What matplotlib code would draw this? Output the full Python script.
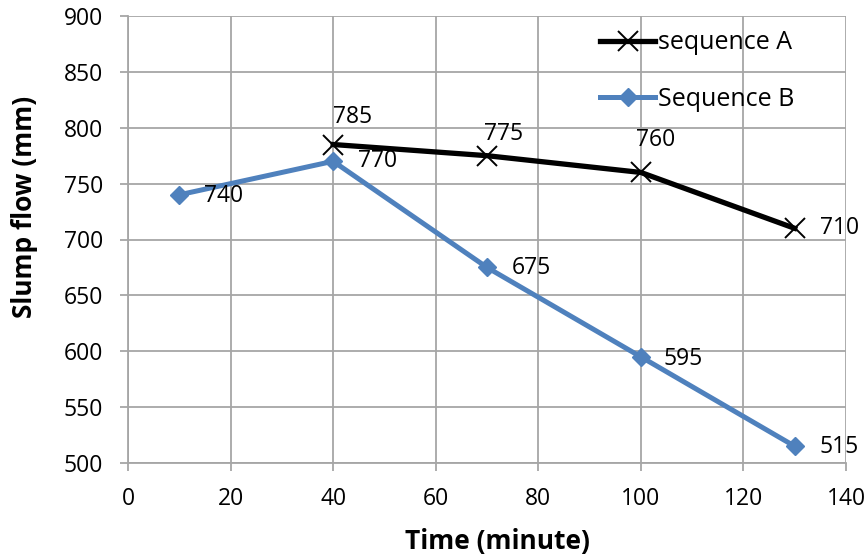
import matplotlib
matplotlib.use("Agg")
import matplotlib.pyplot as plt

time_a = [40, 70, 100, 130]
flow_a = [785, 775, 760, 710]
time_b = [10, 40, 70, 100, 130]
flow_b = [740, 770, 675, 595, 515]

label_a = "sequence A"
label_b = "Sequence B"

plt.rcParams['font.family'] = ['Open Sans', 'DejaVu Sans']

W, H = 865, 559
fig = plt.figure(figsize=(W / 100, H / 100), dpi=100)
ax = fig.add_axes([128 / W, 1 - 463 / H, 718 / W, 447 / H])

grid_c = '#A6A6A6'
ax.plot(time_a, flow_a, color='black', lw=3.8, marker='x', markersize=14,
        markeredgewidth=1.4, label=label_a, zorder=3)
ax.plot(time_b, flow_b, color='#4F81BD', lw=3.6, marker='D', markersize=9.5,
        label=label_b, zorder=3)

px = 0.72  # points per pixel
fs = 16.5
# label offsets in pixels (dx, dy up)
offs_a = [(0, 28), (-3, 22), (-5, 32), (25, 0)]
for x, y, (dx, dy) in zip(time_a, flow_a, offs_a):
    ax.annotate(str(y), (x, y), xytext=(dx * px, dy * px),
                textcoords='offset points', fontsize=fs, ha='left',
                va='center')
offs_b = [(25, -1), (25, 0), (25, -1), (23, -2), (25, -1)]
for x, y, (dx, dy) in zip(time_b, flow_b, offs_b):
    ax.annotate(str(y), (x, y), xytext=(dx * px, dy * px),
                textcoords='offset points', fontsize=fs, ha='left',
                va='center')

ax.set_xlim(0, 140)
ax.set_ylim(500, 900)
ax.set_xticks(range(0, 141, 20))
ax.set_yticks(range(500, 901, 50))
ax.grid(True, color=grid_c, lw=1.3)
ax.set_axisbelow(True)
for s in ['top', 'right']:
    ax.spines[s].set_visible(False)
for s in ['left', 'bottom']:
    ax.spines[s].set_color(grid_c)
    ax.spines[s].set_linewidth(1.3)
ax.tick_params(direction='out', length=6, color=grid_c, width=1.3,
               labelsize=16.5)
ax.tick_params(axis='y', pad=12)
ax.tick_params(axis='x', pad=11)

ax.set_xlabel('Time (minute)', fontsize=19, fontweight='bold')
ax.set_ylabel('Slump flow (mm)', fontsize=19, fontweight='bold')
ax.xaxis.set_label_coords((497 - 128) / 718, (463 - 541) / 447)
ax.yaxis.set_label_coords((25 - 128) / 718, (463 - 207) / 447)
ax.xaxis.label.set_va('center')
ax.yaxis.label.set_va('center')

leg = ax.legend(loc='center left', bbox_to_anchor=(600 / W, 1 - 71 / H),
                bbox_transform=fig.transFigure, frameon=False,
                fontsize=18, handlelength=2.2, handletextpad=0.12,
                labelspacing=1.25, borderpad=0, borderaxespad=0)

fig.savefig('out.png', dpi=100)
